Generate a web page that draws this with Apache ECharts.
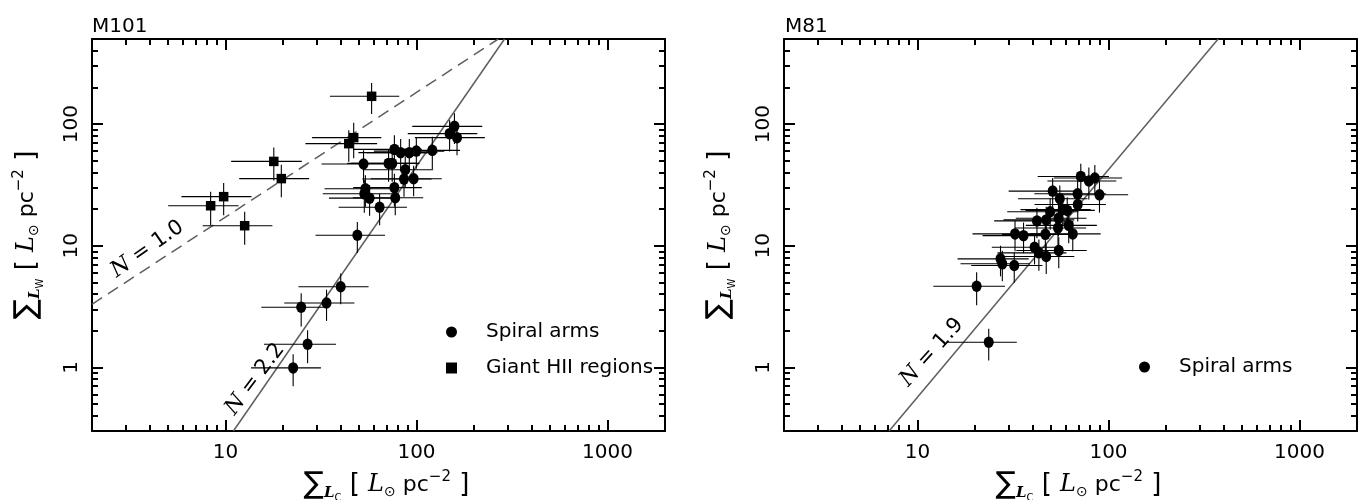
<!DOCTYPE html>
<html><head><meta charset="utf-8">
<script src="https://cdn.jsdelivr.net/npm/echarts@6/dist/echarts.min.js"></script>
<style>html,body{margin:0;padding:0;background:#fff}#c{width:1359px;height:500px}</style>
</head><body><div id="c"></div>
<script>
// ---------- DATA ----------
// M101 spiral arms
const m101ArmX  = [22.6, 26.9, 24.9, 33.8, 40.1, 49.0, 64.1, 56.8, 53.3, 54.0, 77.4, 76.6, 86.0, 96.6, 87.3, 52.8, 71.4, 74.6, 76.6, 82.6, 91.7, 99.8, 121, 158, 149, 163];
const m101ArmY  = [0.99, 1.55, 3.12, 3.38, 4.6, 12.2, 20.7, 24.6, 26.7, 29.4, 24.8, 30.0, 35.3, 35.5, 42.1, 46.9, 47.5, 47.5, 61.9, 58.2, 58.2, 59.9, 60.8, 95.7, 83.4, 77.3];
const m101ArmXe = [9, 11, 9.5, 13.5, 16, 19.4, 25, 22, 21, 21, 31, 30, 34, 39, 35, 21, 28, 29, 30, 33, 37, 40, 48, 63, 59, 65];
const m101ArmYe = [0.29, 0.47, 0.95, 0.97, 1.3, 3.5, 6, 7, 8, 8.5, 7, 9, 10, 10, 12, 14, 14, 14, 19, 17, 17, 17, 18, 27, 24, 22];
// M101 giant HII regions
const m101HiiX  = [58.2, 46.9, 44.2, 17.9, 19.6, 9.78, 12.6, 8.36];
const m101HiiY  = [169, 77.3, 69.0, 49.3, 35.6, 25.3, 14.6, 21.3];
const m101HiiXe = [23, 18.5, 18, 7.2, 7.8, 3.9, 5, 3.35];
const m101HiiYe = [48, 25, 20, 15, 10.6, 7.5, 4.4, 6.5];
// M81 spiral arms
const m81X  = [71.6, 78.9, 84.8, 89.7, 68.9, 51.0, 55.6, 69.0, 60.8, 57.6, 49.5, 47.2, 42.2, 54.7, 46.7, 32.4, 35.9, 61.9, 65.0, 54.4, 41.0, 43.2, 47.2, 54.9, 27.2, 27.8, 32.1, 20.4, 23.6];
const m81Y  = [37.1, 34.0, 36.0, 26.2, 26.7, 28.1, 24.3, 21.8, 19.5, 19.8, 19.0, 16.3, 16.0, 16.8, 12.4, 12.5, 12.1, 14.7, 12.5, 14.0, 9.72, 8.74, 8.15, 9.13, 7.80, 7.10, 6.87, 4.64, 1.61];
const m81Xe = [29, 31, 33, 37, 28, 21, 22, 28, 24, 23, 20, 19, 17, 22, 19, 13, 14, 25, 26, 22, 16.5, 17, 19, 22, 11, 11, 13, 8.3, 9.5];
const m81Ye = [10, 10, 10, 7.5, 7.5, 8, 7, 6, 5.5, 5.5, 5.5, 4.6, 4.5, 4.8, 3.5, 3.5, 3.4, 4.2, 3.5, 4, 2.7, 2.5, 2.3, 2.6, 2.2, 2, 1.9, 1.4, 0.47];
// fit lines (end points)
const m101FitN22 = [[11, 0.3], [289, 500]];
const m101FitN10 = [[2, 3.3], [268, 500]];
const m81FitN19  = [[7.1, 0.3], [375, 500]];
// tick values
const xMajor = [10, 100, 1000];
const xMinor = [3,4,5,6,7,8,9,20,30,40,50,60,70,80,90,200,300,400,500,600,700,800,900];
const yMajor = [1, 10, 100];
const yMinor = [0.4,0.5,0.6,0.7,0.8,0.9,2,3,4,5,6,7,8,9,20,30,40,50,60,70,80,90,200,300,400];

// ---------- STYLE ----------
const FONT = 'DejaVu Sans';
const SERIF = 'DejaVu Serif';
const ELLIPSE = 'path://M50,0A50,50 0 1,1 50,100A50,50 0 1,1 50,0Z';
const SQUARE = 'path://M0,0H10V10H0Z';
const GRIDS = [{left: 92, top: 39, width: 573, height: 392}, {left: 784, top: 39, width: 573, height: 392}];

const nameRich = {
  s:   {fontSize: 30, fontFamily: FONT, color: '#000'},
  sl:  {fontSize: 15, fontFamily: SERIF, fontStyle: 'italic', fontWeight: 'bold', color: '#000', padding: [16, 0, 0, 0]},
  sc:  {fontSize: 10, fontFamily: FONT, color: '#000', padding: [26, 0, 0, 0]},
  b:   {fontSize: 26, fontFamily: FONT, color: '#000'},
  l:   {fontSize: 24, fontFamily: SERIF, fontStyle: 'italic', color: '#000'},
  o:   {fontSize: 14, fontFamily: FONT, color: '#000', padding: [14, 0, 0, 0]},
  t:   {fontSize: 22, fontFamily: FONT, color: '#000'},
  sup: {fontSize: 15, fontFamily: FONT, color: '#000', padding: [0, 0, 16, 0]}
};
const xName = '{s|∑}{sl|L}{sc|C}{b| [ }{l|L}{o|⊙}{t| pc}{sup|−2}{b| ]}';
const yName = '{s|∑}{sl|L}{sc|W}{b| [ }{l|L}{o|⊙}{t| pc}{sup|−2}{b| ]}';

const lineBlack = {color: '#000', width: 2};
function tick(vals, len) {
  return {show: true, inside: true, length: len, customValues: vals, lineStyle: {color: '#000', width: 2}};
}
function xAxes(g) {
  const base = {type: 'log', logBase: 10, min: 2, max: 2000, gridIndex: g, splitLine: {show: false},
    axisLine: {show: false, onZero: false}, axisLabel: {show: false}, silent: true};
  return [
    Object.assign({}, base, {position: 'bottom', axisLine: {show: true, onZero: false, lineStyle: lineBlack},
      axisTick: tick(xMajor, 11),
      axisLabel: {show: true, customValues: xMajor, formatter: v => String(v), fontSize: 20, fontFamily: FONT, color: '#000', margin: 12},
      name: xName, nameLocation: 'middle', nameGap: 36, nameTextStyle: {rich: nameRich, padding: [0, 0, 0, 16]}}),
    Object.assign({}, base, {position: 'bottom', axisTick: tick(xMinor, 6)}),
    Object.assign({}, base, {position: 'top', axisLine: {show: true, onZero: false, lineStyle: lineBlack}, axisTick: tick(xMajor, 11)}),
    Object.assign({}, base, {position: 'top', axisTick: tick(xMinor, 6)})
  ];
}
function yAxes(g) {
  const base = {type: 'log', logBase: 10, min: 0.3, max: 500, gridIndex: g, splitLine: {show: false},
    axisLine: {show: false, onZero: false}, axisLabel: {show: false}, silent: true};
  return [
    Object.assign({}, base, {position: 'left', axisLine: {show: true, onZero: false, lineStyle: lineBlack},
      axisTick: tick(yMajor, 11),
      axisLabel: {show: true, customValues: yMajor, formatter: v => String(v), rotate: 90, fontSize: 20, fontFamily: FONT, color: '#000', margin: 10},
      name: yName, nameLocation: 'middle', nameGap: 47, nameRotate: 90, nameTextStyle: {rich: nameRich}}),
    Object.assign({}, base, {position: 'left', axisTick: tick(yMinor, 6)}),
    Object.assign({}, base, {position: 'right', axisLine: {show: true, onZero: false, lineStyle: lineBlack}, axisTick: tick(yMajor, 11)}),
    Object.assign({}, base, {position: 'right', axisTick: tick(yMinor, 6)})
  ];
}

function errSeries(name, xs, ys, xe, ye, ai) {
  return {
    type: 'custom', name: name, xAxisIndex: ai, yAxisIndex: ai, silent: true, z: 3,
    data: xs.map((x, i) => [x, ys[i], xe[i], ye[i]]),
    encode: {x: 0, y: 1},
    renderItem: function (params, api) {
      const x = api.value(0), y = api.value(1), dx = api.value(2), dy = api.value(3);
      const a = api.coord([x - dx, y]), b = api.coord([x + dx, y]);
      const c = api.coord([x, y - dy]), d = api.coord([x, y + dy]);
      return {type: 'group', children: [
        {type: 'line', shape: {x1: a[0], y1: a[1], x2: b[0], y2: b[1]}, style: {stroke: '#000', lineWidth: 1.1}},
        {type: 'line', shape: {x1: c[0], y1: c[1], x2: d[0], y2: d[1]}, style: {stroke: '#000', lineWidth: 1.1}}
      ]};
    }
  };
}
function pts(name, xs, ys, sym, size, ai) {
  return {type: 'scatter', name: name, xAxisIndex: ai, yAxisIndex: ai, symbol: sym, symbolSize: size,
    itemStyle: {color: '#000', opacity: 1}, silent: true, z: 4,
    data: xs.map((x, i) => [x, ys[i]])};
}
function fit(name, d, dashed, ai, lbl) {
  return {type: 'line', name: name, xAxisIndex: ai, yAxisIndex: ai, data: d, symbol: 'none', silent: true, z: 2,
    lineStyle: {color: '#5e5e5e', width: 1.5, type: dashed ? [12, 7] : 'solid'},
    markPoint: {symbol: 'circle', symbolSize: 1, itemStyle: {color: 'rgba(0,0,0,0)'}, silent: true,
      data: [{coord: lbl.coord, label: {show: true, position: 'inside', rotate: lbl.rotate,
        formatter: '{n|N} = ' + lbl.text, fontSize: 21, fontFamily: FONT, color: '#000',
        rich: {n: {fontSize: 22, fontFamily: SERIF, fontStyle: 'italic', color: '#000'}}}}]}};
}

const option = {
  animation: false,
  backgroundColor: '#fff',
  title: [
    {text: 'M101', left: 92, top: 17, padding: 0, textStyle: {fontSize: 20, fontWeight: 'normal', fontFamily: FONT, color: '#000'}},
    {text: 'M81', left: 785, top: 17, padding: 0, textStyle: {fontSize: 20, fontWeight: 'normal', fontFamily: FONT, color: '#000'}}
  ],
  legend: [
    {left: 446, top: 322, orient: 'vertical', itemWidth: 59, itemHeight: 11, itemGap: 16, padding: 0, selectedMode: false,
      data: [{name: 'Spiral arms', icon: 'circle'}, {name: 'Giant HII regions', icon: SQUARE}],
      textStyle: {fontSize: 20, fontFamily: FONT, color: '#000'}},
    {left: 1139, top: 357, orient: 'vertical', itemWidth: 59, itemHeight: 11, padding: 0, selectedMode: false,
      data: [{name: 'Spiral arms', icon: 'circle'}],
      textStyle: {fontSize: 20, fontFamily: FONT, color: '#000'}}
  ],
  grid: GRIDS.map(g => Object.assign({outerBoundsMode: 'none', containLabel: false}, g)),
  xAxis: xAxes(0).concat(xAxes(1)),
  yAxis: yAxes(0).concat(yAxes(1)),
  series: [
    fit('fit22', m101FitN22, false, 0, {coord: [14.3, 0.8], rotate: 53, text: '2.2'}),
    fit('fit10', m101FitN10, true, 0, {coord: [3.9, 9.4], rotate: 35, text: '1.0'}),
    errSeries('errArm101', m101ArmX, m101ArmY, m101ArmXe, m101ArmYe, 0),
    errSeries('errHii101', m101HiiX, m101HiiY, m101HiiXe, m101HiiYe, 0),
    pts('Spiral arms', m101ArmX, m101ArmY, ELLIPSE, [10, 11.5], 0),
    pts('Giant HII regions', m101HiiX, m101HiiY, SQUARE, 9.5, 0),
    fit('fit19', m81FitN19, false, 4, {coord: [11.9, 1.33], rotate: 48, text: '1.9'}),
    errSeries('errArm81', m81X, m81Y, m81Xe, m81Ye, 4),
    pts('Spiral arms', m81X, m81Y, ELLIPSE, [10, 11.5], 4)
  ]
};
const chart = echarts.init(document.getElementById('c'), null, {renderer: 'canvas'});
chart.setOption(option);
</script></body></html>
